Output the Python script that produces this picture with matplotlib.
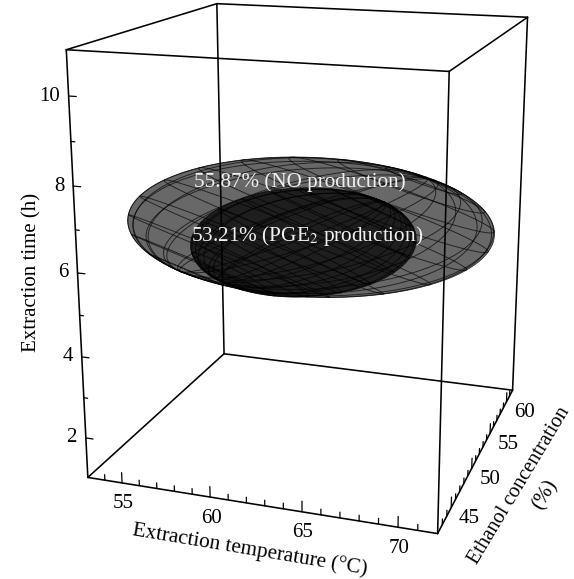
import numpy as np
import matplotlib
matplotlib.use("Agg")
import matplotlib.pyplot as plt

plt.rcParams['font.family'] = ['Liberation Serif', 'DejaVu Serif']
plt.rcParams['mathtext.fontset'] = 'stix'

# axis ranges and ticks
temp_lim = (53, 72)
etoh_lim = (42, 62)
time_lim = (1, 11)
temp_major = [55, 60, 65, 70]
etoh_major = [45, 50, 55, 60]
time_major = [2, 4, 6, 8, 10]
temp_minor = list(range(54, 72))
etoh_minor = list(range(43, 62))
time_minor = [3, 5, 7, 9]

# ellipsoids: centre (temp, etoh, time) and three axis vectors
no_center = [62.1, 52.0, 6.38]
no_axes = [[10.2, 0, 0.0], [0, 8.2, 0], [0, 0, 1.42]]
pge_center = [62.2, 51.0, 6.1]
pge_axes = [[6.0, 0, 0.0], [0, 7.2, 0], [0, 0, 1.02]]

# where the corners of the box sit on the page, used to fit the perspective
cube = np.array([[0,0,0],[1,0,0],[1,1,0],[0,1,0],[0,0,1],[1,0,1],[1,1,1],[0,1,1]], float)
page = np.array([[88,479],[437,532],[513,392],[224,352],[66,50],[450,71],[527,17],[217,4]], float)


def fit_camera(c, p):
	rows = []
	rhs = []
	for (u, v, w), (x, y) in zip(c, p):
		rows.append([u, v, w, 1, 0, 0, 0, 0, -x*u, -x*v, -x*w])
		rhs.append(x)
		rows.append([0, 0, 0, 0, u, v, w, 1, -y*u, -y*v, -y*w])
		rhs.append(y)
	m = np.linalg.lstsq(np.array(rows), np.array(rhs), rcond=None)[0]
	return np.append(m, 1).reshape(3, 4)


cam = fit_camera(cube, page)


def project(t, e, h):
	t, e, h = np.broadcast_arrays(np.asarray(t, float), np.asarray(e, float), np.asarray(h, float))
	u = (t - temp_lim[0]) / (temp_lim[1] - temp_lim[0])
	v = (e - etoh_lim[0]) / (etoh_lim[1] - etoh_lim[0])
	w = (h - time_lim[0]) / (time_lim[1] - time_lim[0])
	q = np.stack([u, v, w, np.ones_like(u)], axis=-1) @ cam.T
	return q[..., 0] / q[..., 2], q[..., 1] / q[..., 2]


def line3(ax, a, b, lw=1.15, **kw):
	x, y = project([a[0], b[0]], [a[1], b[1]], [a[2], b[2]])
	ax.plot(x, y, color='k', lw=lw, solid_capstyle='round', **kw)


def hull(x, y):
	pts = sorted(set(zip(np.round(x.ravel(), 2), np.round(y.ravel(), 2))))
	def half(points):
		out = []
		for p in points:
			while len(out) > 1 and (out[-1][0]-out[-2][0])*(p[1]-out[-2][1]) - (out[-1][1]-out[-2][1])*(p[0]-out[-2][0]) <= 0:
				out.pop()
			out.append(p)
		return out[:-1]
	return np.array(half(pts) + half(pts[::-1]))


def tilted_basis(deg1, deg2):
	# turn the mesh so its poles do not sit on the outline
	a = np.radians(deg1)
	b = np.radians(deg2)
	rz = np.array([[np.cos(a), -np.sin(a), 0], [np.sin(a), np.cos(a), 0], [0, 0, 1]])
	rx = np.array([[1, 0, 0], [0, np.cos(b), -np.sin(b)], [0, np.sin(b), np.cos(b)]])
	return rx @ rz


def draw_ellipsoid(ax, center, axes, color, n_lat=10, n_lon=18):
	A = np.array(axes, float).T
	center = np.array(center, float)
	rot = tilted_basis(58, 40)

	def surf(th, ph):
		th, ph = np.broadcast_arrays(th, ph)
		s = np.stack([np.cos(th), np.sin(th)*np.cos(ph), np.sin(th)*np.sin(ph)])
		p = center[:, None, None] + np.tensordot(A @ rot, s, axes=1)
		return project(p[0], p[1], p[2])

	th = np.linspace(0, np.pi, 160)[None, :]
	ph = np.linspace(0, 2*np.pi, 240)[:, None]
	x, y = surf(th, ph)
	edge = hull(x, y)
	ax.fill(*edge.T, color=color, lw=0, zorder=2)
	ax.plot(*np.vstack([edge, edge[:1]]).T, color='#333333', lw=0.6, zorder=3)
	# mesh curves, front and back both show through
	for t in np.linspace(0, np.pi, n_lat + 2)[1:-1]:
		x, y = surf(np.array([[t]]), ph)
		ax.plot(x.ravel(), y.ravel(), color='k', lw=0.7, alpha=0.65, zorder=3)
	for p in np.linspace(0, 2*np.pi, n_lon, endpoint=False):
		x, y = surf(th, np.array([[p]]))
		ax.plot(x.ravel(), y.ravel(), color='k', lw=0.7, alpha=0.65, zorder=3)


def main():
	fig = plt.figure(figsize=(5.74, 5.79), dpi=100)
	ax = fig.add_axes([0, 0, 1, 1])
	ax.set_xlim(0, 574)
	ax.set_ylim(579, 0)
	ax.axis('off')

	draw_ellipsoid(ax, no_center, no_axes, '#686868')
	draw_ellipsoid(ax, pge_center, pge_axes, '#1e1e1e')

	t0, t1 = temp_lim
	e0, e1 = etoh_lim
	h0, h1 = time_lim
	corners = [(t0,e0),(t1,e0),(t1,e1),(t0,e1)]
	for i in range(4):
		t, e = corners[i]
		tn, en = corners[(i+1) % 4]
		line3(ax, (t, e, h0), (tn, en, h0), zorder=4)
		line3(ax, (t, e, h1), (tn, en, h1), zorder=4)
		line3(ax, (t, e, h0), (t, e, h1), zorder=4)

	# ticks
	for v in temp_minor:
		line3(ax, (v, e0, h0), (v, e0, h0 + (0.26 if v in temp_major else 0.14)), lw=0.9, zorder=4)
	for v in etoh_minor:
		line3(ax, (t1, v, h0), (t1, v, h0 + (0.26 if v in etoh_major else 0.14)), lw=0.9, zorder=4)
	for v in time_major:
		line3(ax, (t0, e0, v), (t0 + 0.42, e0, v), lw=0.9, zorder=4)
	for v in time_minor:
		line3(ax, (t0, e0, v), (t0 + 0.22, e0, v), lw=0.9, zorder=4)

	# tick labels
	fs = 15
	for v in temp_major:
		x, y = project(v, e0, h0)
		ax.text(x + 1, y + 21, str(v), fontsize=fs, ha='center', va='center')
	for v in etoh_major:
		x, y = project(t1, v, h0)
		ax.text(x + 18, y + 11, str(v), fontsize=fs, ha='center', va='center')
	for v in time_major:
		x, y = project(t0, e0, v)
		ax.text(x - 9, y, str(v), fontsize=fs, ha='right', va='center')

	ax.text(250, 550, 'Extraction temperature (°C)', fontsize=15.3, rotation=-9.5, rotation_mode='anchor',
		ha='center', va='center')
	ax.text(32, 272, 'Extraction time (h)', fontsize=15, rotation=90, ha='center', va='center')
	ax.text(519, 486, 'Ethanol concentration', fontsize=14.8, rotation=59, rotation_mode='anchor', ha='center', va='center')
	ax.text(545, 495, '(%)', fontsize=15, rotation=59, rotation_mode='anchor', ha='center', va='center')

	ax.text(300, 182, '55.87% (NO production)', color='#f0f0f0', fontsize=15.2, ha='center', va='center', zorder=5)
	ax.text(307, 236, '53.21% (PGE$_2$ production)', color='#f0f0f0', fontsize=15.3, ha='center', va='center', zorder=5)

	fig.savefig('out.png', dpi=100)
	plt.close(fig)


if __name__ == "__main__":
	main()
